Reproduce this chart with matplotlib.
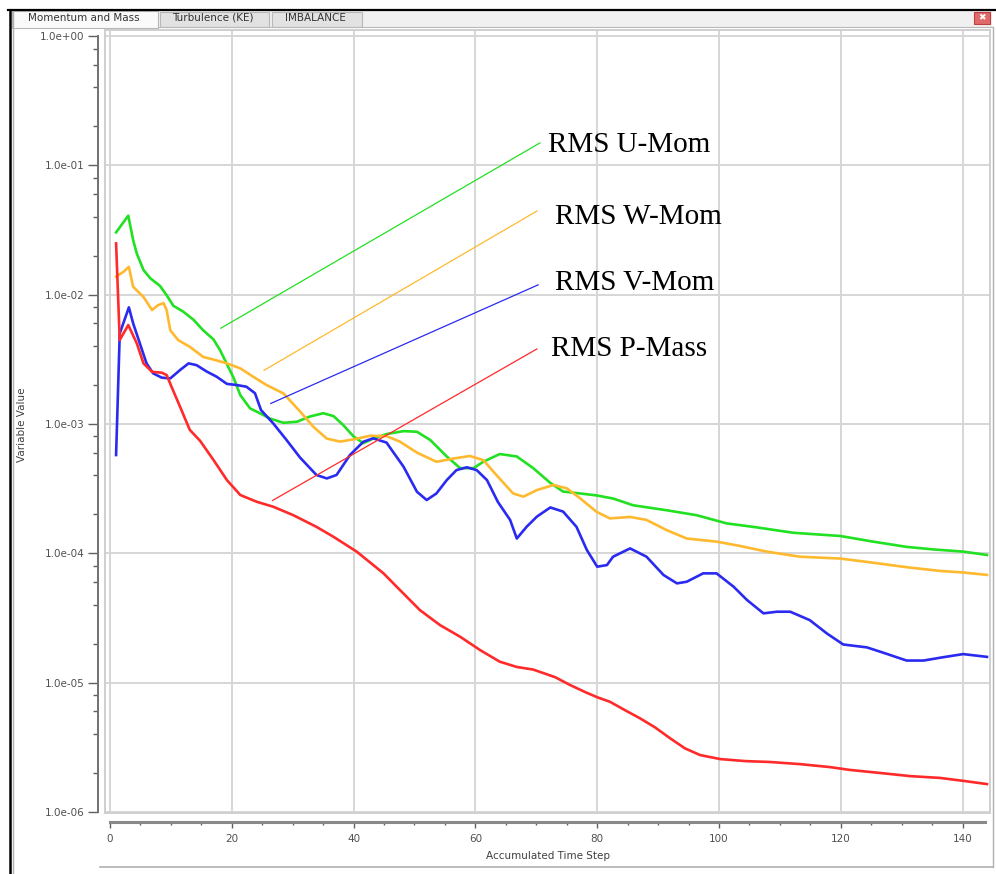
import matplotlib
matplotlib.use("Agg")
import matplotlib.pyplot as plt
from matplotlib.patches import Rectangle
from matplotlib.lines import Line2D
from matplotlib.ticker import LogLocator, MultipleLocator, FuncFormatter, NullFormatter

# ---- monitor data ----
u_x = [1, 3, 3.8, 4.4, 5.5, 6.6, 8.2, 9.3, 10.4, 12, 13.7, 15.3, 17, 18.1, 19.2, 20.3, 21.4, 23, 24.6, 26.3,
       28.5, 30.7, 32.8, 35, 36.7, 38.3, 40, 41.6, 43.2, 45.4, 48.2, 50.4, 52.6, 55.3, 57.5, 59.7, 61.3, 64,
       66.8, 69.5, 72.3, 74.4, 77.2, 79.9, 82.6, 85.9, 91.4, 96.3, 101.3, 105.6, 112.2, 119.9, 125.3, 130.8,
       135.2, 140.1, 144]
u_y = [3.03e-2, 4.08e-2, 2.64e-2, 2.08e-2, 1.55e-2, 1.34e-2, 1.17e-2, 9.9e-3, 8.2e-3, 7.4e-3, 6.4e-3, 5.3e-3,
       4.5e-3, 3.7e-3, 2.9e-3, 2.27e-3, 1.67e-3, 1.32e-3, 1.21e-3, 1.10e-3, 1.02e-3, 1.04e-3, 1.14e-3, 1.21e-3,
       1.15e-3, 9.8e-4, 8.0e-4, 7.1e-4, 7.7e-4, 8.35e-4, 8.8e-4, 8.7e-4, 7.5e-4, 5.6e-4, 4.55e-4, 4.55e-4,
       5.1e-4, 5.85e-4, 5.6e-4, 4.55e-4, 3.5e-4, 3.0e-4, 2.9e-4, 2.8e-4, 2.65e-4, 2.35e-4, 2.15e-4, 1.97e-4,
       1.70e-4, 1.60e-4, 1.44e-4, 1.36e-4, 1.23e-4, 1.12e-4, 1.07e-4, 1.03e-4, 9.7e-5]

w_x = [1, 2.2, 3.1, 3.8, 5.5, 6.9, 7.9, 8.8, 9.3, 9.9, 11.2, 13.1, 15.3, 17.5, 19.2, 21.4, 23.5, 25.7, 28.5,
       31.2, 33.4, 35.6, 37.8, 40, 42.7, 45.4, 47.6, 50.4, 53.6, 56.4, 59.1, 61.3, 63.5, 66.2, 67.9, 70.1, 72.8,
       75, 77.2, 79.9, 82.1, 85.4, 88.1, 91.4, 94.7, 99.6, 103.4, 107.8, 113.3, 119.9, 125.3, 130.8, 136.3,
       140.1, 144]
w_y = [1.38e-2, 1.50e-2, 1.64e-2, 1.15e-2, 9.6e-3, 7.6e-3, 8.3e-3, 8.6e-3, 7.6e-3, 5.3e-3, 4.45e-3, 3.95e-3,
       3.3e-3, 3.1e-3, 2.94e-3, 2.69e-3, 2.32e-3, 2.0e-3, 1.72e-3, 1.25e-3, 9.5e-4, 7.7e-4, 7.3e-4, 7.6e-4,
       8.1e-4, 8.05e-4, 7.3e-4, 6.0e-4, 5.1e-4, 5.4e-4, 5.65e-4, 5.25e-4, 4.0e-4, 2.9e-4, 2.74e-4, 3.08e-4,
       3.37e-4, 3.18e-4, 2.66e-4, 2.09e-4, 1.86e-4, 1.91e-4, 1.81e-4, 1.51e-4, 1.30e-4, 1.23e-4, 1.14e-4,
       1.03e-4, 9.4e-5, 9.1e-5, 8.45e-5, 7.8e-5, 7.3e-5, 7.1e-5, 6.8e-5]

v_x = [1, 1.6, 3.1, 3.8, 4.9, 6, 7.1, 8.5, 9.9, 11.5, 12.9, 14.2, 15.9, 17.5, 19.2, 20.8, 22.4, 23.8, 24.8,
       26.8, 29, 31.2, 33.9, 35.6, 37.2, 39.4, 41.6, 43.2, 45.4, 48.2, 50.4, 52, 53.6, 55.3, 56.9, 58.6, 60.2,
       61.9, 63.7, 65.7, 66.8, 68.4, 70.1, 72.3, 74.4, 76.6, 78.3, 80, 81.6, 82.6, 85.4, 88.1, 90.9, 93.1,
       94.7, 97.4, 99.6, 102.4, 104.6, 107.3, 109.5, 111.7, 114.9, 117.7, 120.4, 124.3, 127, 130.8, 133.6,
       136.8, 140.1, 144]
v_y = [5.75e-4, 5.0e-3, 7.97e-3, 6.0e-3, 4.2e-3, 2.94e-3, 2.46e-3, 2.28e-3, 2.25e-3, 2.61e-3, 2.94e-3,
       2.85e-3, 2.54e-3, 2.32e-3, 2.04e-3, 2.0e-3, 1.94e-3, 1.73e-3, 1.28e-3, 1.01e-3, 7.5e-4, 5.5e-4, 4.03e-4,
       3.79e-4, 4.03e-4, 5.75e-4, 7.28e-4, 7.74e-4, 7.18e-4, 4.67e-4, 2.99e-4, 2.58e-4, 2.90e-4, 3.68e-4,
       4.40e-4, 4.62e-4, 4.40e-4, 3.68e-4, 2.49e-4, 1.81e-4, 1.30e-4, 1.60e-4, 1.92e-4, 2.26e-4, 2.10e-4,
       1.60e-4, 1.06e-4, 7.87e-5, 8.1e-5, 9.4e-5, 1.09e-4, 9.4e-5, 6.78e-5, 5.85e-5, 6.02e-5, 6.99e-5, 6.99e-5,
       5.51e-5, 4.35e-5, 3.43e-5, 3.53e-5, 3.53e-5, 3.04e-5, 2.40e-5, 1.97e-5, 1.87e-5, 1.70e-5, 1.48e-5,
       1.48e-5, 1.57e-5, 1.66e-5, 1.58e-5]

p_x = [1, 1.6, 3, 4.4, 5.5, 6.9, 8.5, 9.3, 10.1, 11.5, 13.1, 14.8, 17, 19.2, 21.4, 24.1, 26.8, 30.1, 33.9,
       36.7, 40.5, 44.9, 47.6, 50.9, 54.2, 57.5, 60.8, 64, 66.8, 69.5, 73.1, 75.5, 78, 80, 82.1, 84.6, 87,
       89.5, 92, 94.4, 96.9, 100.2, 104.3, 108.4, 113.3, 118.2, 121.5, 126.4, 131.4, 136.3, 140.4, 144]
p_y = [2.49e-2, 4.46e-3, 5.82e-3, 4.2e-3, 2.94e-3, 2.53e-3, 2.49e-3, 2.39e-3, 1.94e-3, 1.36e-3, 9.0e-4,
       7.4e-4, 5.26e-4, 3.68e-4, 2.82e-4, 2.5e-4, 2.29e-4, 1.97e-4, 1.6e-4, 1.34e-4, 1.03e-4, 7.0e-5, 5.2e-5,
       3.63e-5, 2.78e-5, 2.26e-5, 1.78e-5, 1.45e-5, 1.32e-5, 1.26e-5, 1.10e-5, 9.6e-6, 8.45e-6, 7.7e-6,
       7.1e-6, 6.1e-6, 5.3e-6, 4.5e-6, 3.7e-6, 3.1e-6, 2.75e-6, 2.56e-6, 2.47e-6, 2.43e-6, 2.34e-6, 2.22e-6,
       2.11e-6, 2.0e-6, 1.89e-6, 1.83e-6, 1.73e-6, 1.64e-6]

series_x = [u_x, w_x, v_x, p_x]
series_y = [u_y, w_y, v_y, p_y]
series_names = ["RMS U-Mom", "RMS W-Mom", "RMS V-Mom", "RMS P-Mass"]
series_colors = ["#22e022", "#ffb92e", "#2a2af0", "#ff2a2a"]

# hand drawn leader lines and where the labels sit (data coords)
lead_start = [(18.2, 5.5e-3), (25.3, 2.6e-3), (26.4, 1.44e-3), (26.7, 2.56e-4)]
lead_end = [(70.6, 0.149), (70.1, 0.0443), (70.3, 0.0119), (70.1, 3.8e-3)]
label_pos = [(71.9, 0.1436), (73.1, 0.0399), (73.1, 0.0123), (72.4, 3.8e-3)]

tab_names = ["Momentum and Mass", "Turbulence (KE)", "IMBALANCE"]

W, H = 996, 874
fig = plt.figure(figsize=(W / 100, H / 100), dpi=100)
fig.patch.set_facecolor("white")


def fx(px):
    return px / W


def fy(py):
    return 1 - py / H


def box(x0, y0, x1, y1, fc, ec="none", lw=0.8):
    fig.add_artist(Rectangle((fx(x0), fy(y1)), fx(x1) - fx(x0), fy(y0) - fy(y1),
                             transform=fig.transFigure, facecolor=fc, edgecolor=ec, lw=lw))


def hline(x0, x1, y, color, lw):
    fig.add_artist(Line2D([fx(x0), fx(x1)], [fy(y), fy(y)], transform=fig.transFigure, color=color, lw=lw))


def vline(x, y0, y1, color, lw):
    fig.add_artist(Line2D([fx(x), fx(x)], [fy(y0), fy(y1)], transform=fig.transFigure, color=color, lw=lw))


# ---- window chrome: tab strip, borders, close button ----
box(12, 11, 992, 27, "#f0f0f0")
box(12, 11, 158, 28, "#fafafa", "#b8b8b8")
box(160, 12, 269, 27, "#e2e2e2", "#b8b8b8")
box(272, 12, 362, 27, "#e2e2e2", "#b8b8b8")
tab_x = [28, 172, 285]
for name, tx in zip(tab_names, tab_x):
    fig.text(fx(tx), fy(18), name, fontsize=7.5, color="#333333", va="center", ha="left")
hline(158, 992, 27, "#b8b8b8", 0.8)
box(974, 12, 990, 24, "#e06a6a", "#c04040")
fig.text(fx(982), fy(18), "\u2716", fontsize=6.5, color="white", ha="center", va="center")

hline(8, 996, 10, "black", 1.6)
vline(9.5, 10, 874, "black", 1.8)
vline(13, 12, 874, "#b0b0b0", 1.0)
vline(993, 27, 867, "#b0b0b0", 1.0)
hline(100, 993, 867, "#b0b0b0", 1.2)

# ---- plot area ----
x_lo, x_hi = -0.82, 144.5
y_lo, y_hi = 9.8e-7, 1.113
rect = [fx(105), fy(813), fx(990) - fx(105), fy(30) - fy(813)]

ax = fig.add_axes(rect)
ax.set_yscale("log")
ax.set_xlim(x_lo, x_hi)
ax.set_ylim(y_lo, y_hi)
ax.xaxis.set_major_locator(MultipleLocator(20))
ax.yaxis.set_major_locator(LogLocator(base=10, numticks=20))
ax.grid(True, which="major", color="#d6d6d6", lw=1.4)
ax.tick_params(which="both", length=0, labelbottom=False, labelleft=False)
for s in ax.spines.values():
    s.set_color("#cfcfcf")
    s.set_linewidth(1.4)

for xs, ys, c in zip(series_x, series_y, series_colors):
    ax.plot(xs, ys, color=c, lw=1.9, solid_joinstyle="round")

for (x0, y0), (x1, y1), (lx, ly), name, c in zip(lead_start, lead_end, label_pos, series_names, series_colors):
    ax.plot([x0, x1], [y0, y1], color=c, lw=0.9)
    ax.text(lx, ly, name, fontsize=21, family="Liberation Serif", ha="left", va="center",
            color="black")

# detached axes like the solver monitor
ax2 = fig.add_axes(rect)
ax2.set_yscale("log")
ax2.set_xlim(x_lo, x_hi)
ax2.set_ylim(y_lo, y_hi)
ax2.patch.set_visible(False)
ax2.spines["top"].set_visible(False)
ax2.spines["right"].set_visible(False)
ax2.spines["left"].set_position(("outward", 5))
ax2.spines["bottom"].set_position(("outward", 6.5))
ax2.spines["left"].set_bounds(1e-6, 1.0)
ax2.spines["bottom"].set_bounds(0, 143.7)
ax2.spines["left"].set_color("#707070")
ax2.spines["left"].set_linewidth(1.4)
ax2.spines["bottom"].set_color("#8a8a8a")
ax2.spines["bottom"].set_linewidth(2.2)

ax2.xaxis.set_major_locator(MultipleLocator(20))
ax2.xaxis.set_minor_locator(MultipleLocator(5))
ax2.yaxis.set_major_locator(LogLocator(base=10, numticks=20))
ax2.yaxis.set_minor_locator(LogLocator(base=10, subs=(2, 4, 6, 8), numticks=20))
ax2.yaxis.set_major_formatter(FuncFormatter(lambda v, pos: "{:.1e}".format(v)))
ax2.yaxis.set_minor_formatter(NullFormatter())

ax2.tick_params(axis="y", which="major", direction="out", length=7, width=1.0, color="#606060",
                labelsize=7.5, labelcolor="#505050", pad=3)
ax2.tick_params(axis="y", which="minor", direction="out", length=3.5, width=1.0, color="#606060")
ax2.tick_params(axis="x", which="major", direction="out", length=4.5, width=1.0, color="#606060",
                labelsize=7.5, labelcolor="#505050", pad=4)
ax2.tick_params(axis="x", which="minor", direction="out", length=2.5, width=1.0, color="#606060")

fig.text(fx(548), fy(856), "Accumulated Time Step", fontsize=7.5, color="#404040", ha="center", va="center")
fig.text(fx(22), fy(425), "Variable Value", fontsize=7.5, color="#404040", ha="center", va="center",
         rotation=90)

fig.savefig("out.png", dpi=100, facecolor="white")
